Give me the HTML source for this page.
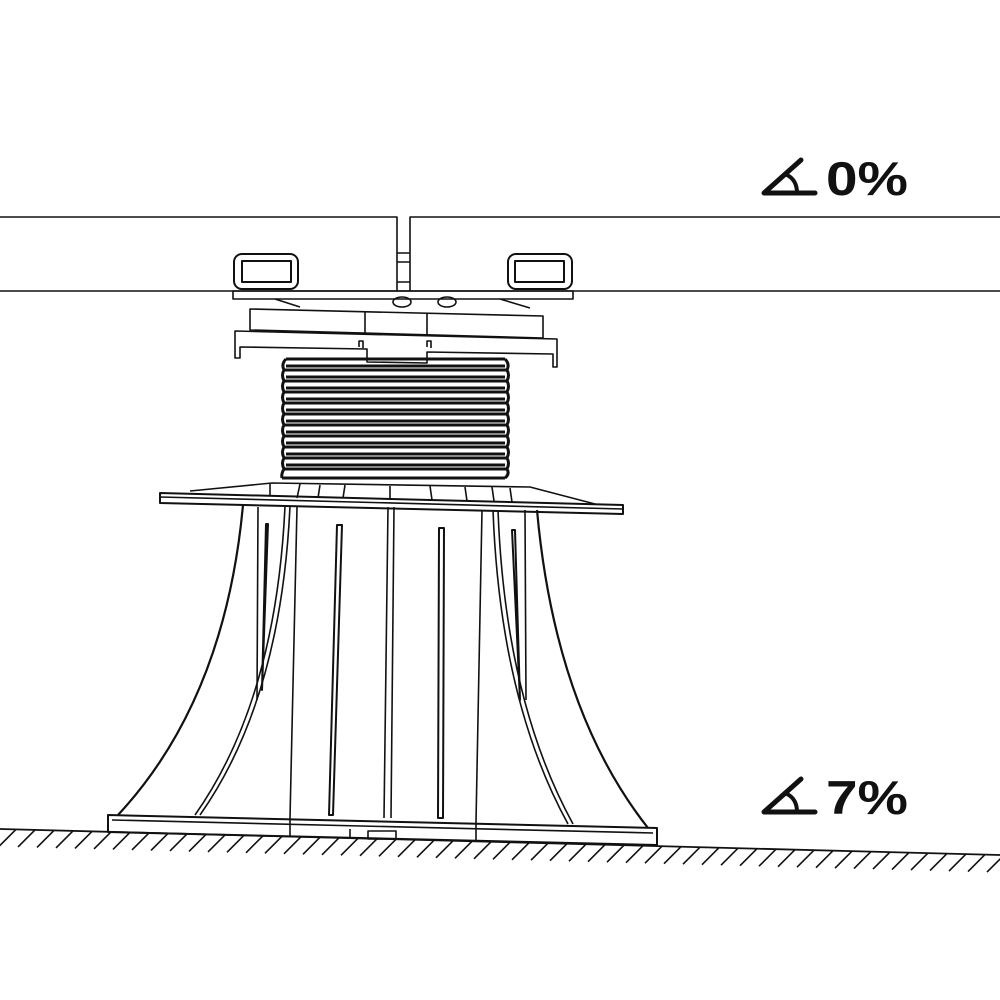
<!DOCTYPE html>
<html><head><meta charset="utf-8"><style>html,body{margin:0;padding:0;background:#fff}svg{display:block}</style></head>
<body>
<svg width="1000" height="1000" viewBox="0 0 1000 1000" xmlns="http://www.w3.org/2000/svg">
<g fill="none" stroke="#111" stroke-width="1.6" stroke-linejoin="round">
<!-- boards -->
<path d="M0 217 H397 V291 M410 291 V217 H1000"/>
<line x1="0" y1="291" x2="1000" y2="291"/>
<path d="M397 253 H410 M397 262 H410 M397 282 H410"/>
<!-- clips -->
<rect x="234" y="254" width="64" height="35" rx="8" stroke-width="2"/>
<rect x="242" y="261" width="49" height="21" stroke-width="2"/>
<rect x="508" y="254" width="64" height="35" rx="8" stroke-width="2"/>
<rect x="515" y="261" width="49" height="21" stroke-width="2"/>
<!-- head plate -->
<rect x="233" y="291" width="340" height="8"/>
<path d="M275 299 L300 307 M500 299 L530 308"/>
<ellipse cx="402" cy="302" rx="9" ry="5"/><ellipse cx="447" cy="302" rx="9" ry="5"/>
<!-- tilted block -->
<path d="M250 309 L543 316 L543 338 L250 330 Z"/>
<path d="M365 312 V333 M427 313 V335"/>
<!-- flange -->
<path d="M235 331 L557 339 L557 367 L553 367 L553 354 L427 352 L427 363 L367 362 L367 349 L240 347 L240 358 L235 358 Z"/>
<path d="M359 347 v-6 h4 v7 M427 347 v-6 h4 v7"/>
<!-- bellows -->
<g stroke-width="3">
<path d="M286 359 H505 M284 370 H507 M286 366 H505"/>
<path d="M284 381 H507 M286 377 H505 M284 392 H507 M286 388 H505 M284 403 H507 M286 399 H505 M284 414 H507 M286 410 H505 M284 425 H507 M286 421 H505 M284 436 H507 M286 432 H505 M284 447 H507 M286 443 H505 M284 458 H507 M286 454 H505 M284 469 H507 M286 465 H505 M282 478 H505"/>
<path d="M286 359 Q281 364 284 370 Q281 375 284 381 Q281 386 284 392 Q281 397 284 403 Q281 408 284 414 Q281 419 284 425 Q281 430 284 436 Q281 441 284 447 Q281 452 284 458 Q281 463 284 469 Q281 474 282 478"/>
<path d="M505 359 Q510 364 507 370 Q510 375 507 381 Q510 386 507 392 Q510 397 507 403 Q510 408 507 414 Q510 419 507 425 Q510 430 507 436 Q510 441 507 447 Q510 452 507 458 Q510 463 507 469 Q510 474 505 478"/>
</g>
<!-- base cap -->
<path d="M190 491 L272 483 L530 487 L595 504"/>
<path d="M270 484 L270 496 M300 484 L297 498 M320 485 L318 498 M345 485 L343 498 M390 486 L390 499 M430 486 L432 500 M465 487 L467 501 M492 487 L494 501 M510 488 L512 502"/>
<!-- flange -->
<path d="M160 493 L623 505 L623 514 L160 503 Z" stroke-width="2"/>
<path d="M160 497 L623 509"/>
<!-- skirt outer -->
<path d="M243 505 Q225 700 118 815" stroke-width="2.2"/>
<path d="M537 510 Q555 710 648 828" stroke-width="2.2"/>
<!-- skirt inner -->
<path d="M285 506 Q276 700 195 815 M290 506 Q281 700 200 815"/>
<path d="M493 510 Q500 700 568 824 M498 510 Q505 700 573 824"/>
<!-- verticals -->
<path d="M258 507 L257 700 M525 510 L526 700"/>
<path d="M297 507 L290 818 M482 510 L476 822"/>
<path d="M388 507 L384 818 M394 507 L391 818"/>
<!-- slots -->
<path d="M266 524 L268 524 L262 690 Z" stroke-width="2"/>
<path d="M337 525 L342 525 L333 815 L329 815 Z" stroke-width="2"/>
<path d="M439 528 L444 528 L443 818 L438 818 Z" stroke-width="2"/>
<path d="M512 530 L515 530 L520 700 Z" stroke-width="2"/>
<!-- base plate -->
<path d="M108 815 L657 828 L657 845 L108 832 Z" stroke-width="2"/>
<path d="M112 820 L653 833"/>
<path d="M290 818 V837 M476 822 V841 M350 829 V838"/>
<rect x="368" y="831" width="28" height="8"/>
<!-- ground -->
<line x1="0" y1="829" x2="1000" y2="855" stroke-width="1.8"/>
<path stroke-width="1.6" d="M16 829.4l-17 17M35 829.9l-17 17M54 830.4l-17 17M73 830.9l-17 17M92 831.4l-17 17M111 831.9l-17 17M130 832.4l-17 17M149 832.9l-17 17M168 833.4l-17 17M187 833.9l-17 17M206 834.4l-17 17M225 834.9l-17 17M244 835.3l-17 17M263 835.8l-17 17M282 836.3l-17 17M301 836.8l-17 17M320 837.3l-17 17M339 837.8l-17 17M358 838.3l-17 17M377 838.8l-17 17M396 839.3l-17 17M415 839.8l-17 17M434 840.3l-17 17M453 840.8l-17 17M472 841.3l-17 17M491 841.8l-17 17M510 842.3l-17 17M529 842.8l-17 17M548 843.2l-17 17M567 843.7l-17 17M586 844.2l-17 17M605 844.7l-17 17M624 845.2l-17 17M643 845.7l-17 17M662 846.2l-17 17M681 846.7l-17 17M700 847.2l-17 17M719 847.7l-17 17M738 848.2l-17 17M757 848.7l-17 17M776 849.2l-17 17M795 849.7l-17 17M814 850.2l-17 17M833 850.7l-17 17M852 851.2l-17 17M871 851.6l-17 17M890 852.1l-17 17M909 852.6l-17 17M928 853.1l-17 17M947 853.6l-17 17M966 854.1l-17 17M985 854.6l-17 17M1004 855.1l-17 17"/>
</g>
<!-- angle symbols -->
<g fill="none" stroke="#111" stroke-width="5" stroke-linecap="round" stroke-linejoin="round">
<path d="M815 193 H764 L801 160"/>
<path d="M787 175 Q797 180 797 193" stroke-width="4"/>
<path d="M815 812 H764 L801 779"/>
<path d="M787 794 Q797 799 797 812" stroke-width="4"/>
</g>
<g font-family="Liberation Sans, sans-serif" font-weight="bold" font-size="47" fill="#111">
<text x="826" y="195" textLength="82" lengthAdjust="spacingAndGlyphs">0%</text>
<text x="826" y="814" textLength="82" lengthAdjust="spacingAndGlyphs">7%</text>
</g>
</svg>
</body></html>
